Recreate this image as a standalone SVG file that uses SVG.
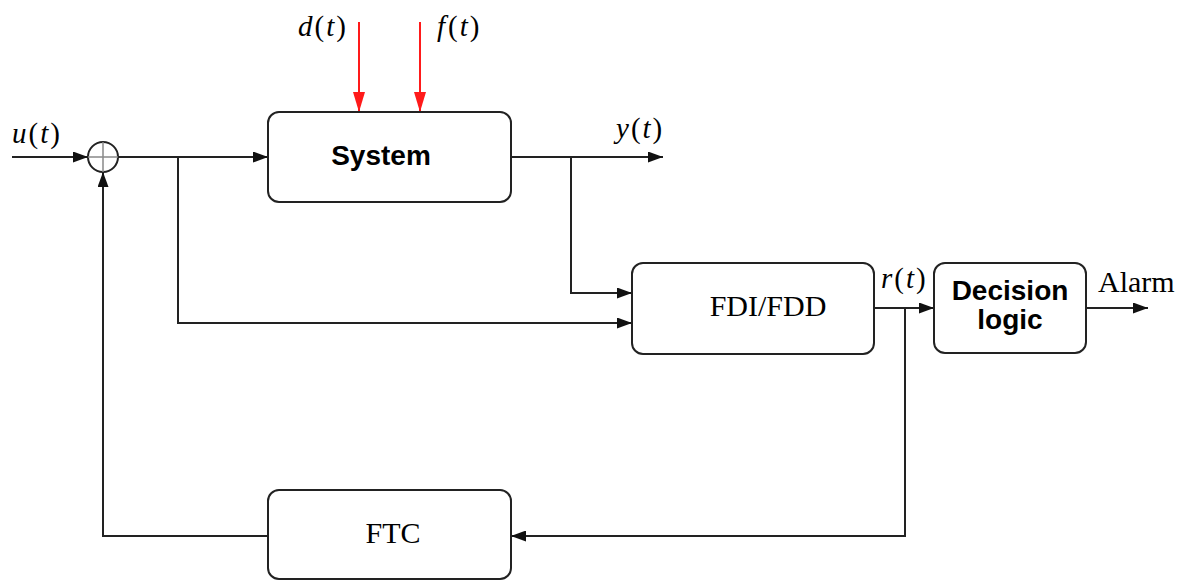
<svg xmlns="http://www.w3.org/2000/svg" width="1189" height="581" viewBox="0 0 1189 581">
  <style>
    .box { fill: #ffffff; stroke: #222222; stroke-width: 2; }
    .wire { fill: none; stroke: #222222; stroke-width: 2; }
    .dist { fill: none; stroke: #ff1a1a; stroke-width: 2; }
    .sans { font-family: "Liberation Sans", Arial, sans-serif; font-weight: bold; font-size: 28px; fill: #000000; }
    .serif { font-family: "Liberation Serif", "Times New Roman", serif; font-size: 30px; fill: #000000; }
    .sig { font-family: "Liberation Serif", "Times New Roman", serif; font-size: 29px; fill: #000000; }
    .sig .v { font-style: italic; }
  </style>
  <defs>
    <marker id="arrow" viewBox="0 0 15 11" refX="15" refY="5.5" markerWidth="15" markerHeight="11" markerUnits="userSpaceOnUse" orient="auto">
      <path d="M0,0 L15,5.5 L0,11 Z" fill="#111111"/>
    </marker>
    <marker id="arrow-red" viewBox="0 0 20 12" refX="20" refY="6" markerWidth="20" markerHeight="12" markerUnits="userSpaceOnUse" orient="auto">
      <path d="M0,0 L20,6 L0,12 Z" fill="#ff1a1a"/>
    </marker>
  </defs>

  <!-- signal connectors -->
  <g id="connectors">
    <!-- external input into the summing junction -->
    <line class="wire" x1="12" y1="157" x2="88" y2="157" marker-end="url(#arrow)"/>
    <!-- junction output to the plant -->
    <line class="wire" x1="118" y1="157" x2="268" y2="157" marker-end="url(#arrow)"/>
    <!-- control signal tapped to the diagnoser -->
    <polyline class="wire" points="178,157 178,323 632,323" marker-end="url(#arrow)"/>
    <!-- plant output -->
    <line class="wire" x1="511" y1="157" x2="663" y2="157" marker-end="url(#arrow)"/>
    <!-- measured output tapped to the diagnoser -->
    <polyline class="wire" points="571,157 571,293 632,293" marker-end="url(#arrow)"/>
    <!-- residual to the decision block -->
    <line class="wire" x1="874" y1="308" x2="934" y2="308" marker-end="url(#arrow)"/>
    <!-- alarm output -->
    <line class="wire" x1="1086" y1="308" x2="1148" y2="308" marker-end="url(#arrow)"/>
    <!-- residual fed to the fault-tolerant controller -->
    <polyline class="wire" points="905,308 905,536 511,536" marker-end="url(#arrow)"/>
    <!-- controller correction back into the junction -->
    <polyline class="wire" points="268,536 103,536 103,172" marker-end="url(#arrow)"/>
    <!-- disturbance and fault inputs -->
    <line class="dist" x1="359" y1="22" x2="359" y2="112" marker-end="url(#arrow-red)"/>
    <line class="dist" x1="420" y1="22" x2="420" y2="112" marker-end="url(#arrow-red)"/>
  </g>

  <!-- summing junction -->
  <g id="sum">
    <circle cx="103" cy="157" r="15" fill="#ffffff" stroke="#222222" stroke-width="2"/>
    <line x1="88" y1="157" x2="118" y2="157" stroke="#888888" stroke-width="1.5"/>
    <line x1="103" y1="142" x2="103" y2="172" stroke="#888888" stroke-width="1.5"/>
  </g>

  <g id="system">
    <rect class="box" x="268" y="112" width="243" height="90" rx="11"/>
    <text class="sans" x="381" y="165" text-anchor="middle" font-size="27">System</text>
  </g>

  <g id="fdi">
    <rect class="box" x="632" y="263" width="242" height="91" rx="11"/>
    <text class="serif" x="768" y="316" text-anchor="middle" font-size="31">FDI/FDD</text>
  </g>

  <g id="decision">
    <rect class="box" x="934" y="263" width="152" height="90" rx="11"/>
    <text class="sans" x="1010" y="300" text-anchor="middle" font-size="29">Decision</text>
    <text class="sans" x="1010" y="329" text-anchor="middle" font-size="29">logic</text>
  </g>

  <g id="ftc">
    <rect class="box" x="268" y="490" width="243" height="89" rx="11"/>
    <text class="serif" x="393" y="543" text-anchor="middle" font-size="31">FTC</text>
  </g>

  <!-- signal labels -->
  <g id="labels">
    <text class="sig" x="298" y="36"><tspan class="v">d</tspan><tspan dx="2">(</tspan><tspan class="v" dx="2">t</tspan><tspan dx="2">)</tspan></text>
    <text class="sig" x="437" y="36"><tspan class="v">f</tspan><tspan dx="3">(</tspan><tspan class="v" dx="2">t</tspan><tspan dx="2">)</tspan></text>
    <text class="sig" x="12" y="143"><tspan class="v">u</tspan><tspan dx="2">(</tspan><tspan class="v" dx="2">t</tspan><tspan dx="2">)</tspan></text>
    <text class="sig" x="616" y="138"><tspan class="v">y</tspan><tspan dx="2">(</tspan><tspan class="v" dx="2">t</tspan><tspan dx="2">)</tspan></text>
    <text class="sig" x="881" y="288" font-size="27"><tspan class="v">r</tspan><tspan dx="2">(</tspan><tspan class="v" dx="2">t</tspan><tspan dx="2">)</tspan></text>
    <text class="serif" x="1098" y="292">Alarm</text>
  </g>
</svg>
